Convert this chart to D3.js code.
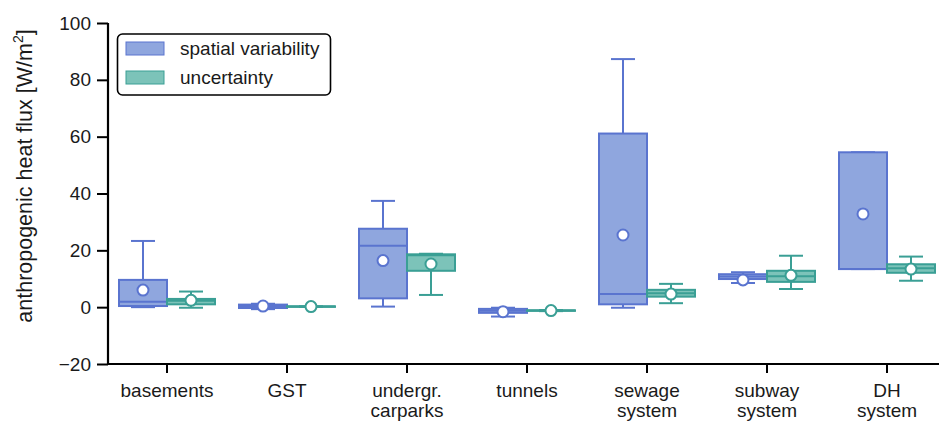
<!DOCTYPE html>
<html>
<head>
<meta charset="utf-8">
<script src="https://cdn.jsdelivr.net/npm/d3@7"></script>
<style>
  body { margin: 0; background: #fff; }
  svg { display: block; font-family: "Liberation Sans", Arial, sans-serif; }
</style>
</head>
<body>
<svg id="chart" width="939" height="422"></svg>
<script>
const categories = ['basements', 'GST', 'undergr.\ncarparks', 'tunnels', 'sewage\nsystem', 'subway\nsystem', 'DH\nsystem'];
const seriesNames = ['spatial variability', 'uncertainty'];
const yTicks = [-20, 0, 20, 40, 60, 80, 100];

// spatial variability stats per category
const spatialLo   = [0,    -0.7, 0.2,  -3.3, -0.2, 8.5,  13.4];
const spatialQ1   = [0.4,  -0.3, 3.1,  -2.0, 1.0,  9.9,  13.4];
const spatialMed  = [1.9,  0.4,  21.6, -1.3, 4.6,  10.8, 13.4];
const spatialQ3   = [9.6,  0.9,  27.6, -0.6, 61.1, 11.6, 54.5];
const spatialHi   = [23.3, 1.2,  37.4, -0.2, 87.3, 12.3, 54.5];
const spatialMean = [6.0,  0.4,  16.4, -1.6, 25.4, 9.6,  32.8];

// uncertainty stats per category
const uncLo   = [-0.2, 0.1, 4.3,  -1.4, 1.4, 6.4,  9.3];
const uncQ1   = [1.0,  0.1, 12.8, -1.3, 3.7, 8.9,  12.1];
const uncMed  = [2.3,  0.2, 18.3, -1.2, 4.9, 10.9, 13.7];
const uncQ3   = [2.9,  0.3, 18.6, -1.1, 6.1, 12.8, 15.1];
const uncHi   = [5.5,  0.3, 18.8, -1.0, 8.2, 18.1, 17.8];
const uncMean = [2.4,  0.2, 15.2, -1.2, 4.6, 11.2, 13.4];

const fills = ['#8fa6de', '#7cc3b9'];
const edges = ['#5a74cf', '#3a9f95'];

const svg = d3.select('#chart');
const margin = { top: 23, left: 108 };
const plotRight = 948, plotBottom = 364;

const x = d3.scaleBand().domain(categories).range([margin.left - 1, plotRight - 1]);
const sub = d3.scaleBand().domain(seriesNames).range([0, x.bandwidth()]).paddingOuter(0.25);
const y = d3.scaleLinear().domain([-20, 100]).range([plotBottom, margin.top]);

const build = (lo, q1, med, q3, hi, mean) => categories.map((c, i) => ({
  cat: c, lo: lo[i], q1: q1[i], med: med[i], q3: q3[i], hi: hi[i], mean: mean[i]
}));
const series = [
  build(spatialLo, spatialQ1, spatialMed, spatialQ3, spatialHi, spatialMean),
  build(uncLo, uncQ1, uncMed, uncQ3, uncHi, uncMean)
];

const bw = sub.bandwidth();
series.forEach((data, si) => {
  const g = svg.append('g');
  const grp = g.selectAll('g').data(data).enter().append('g')
    .attr('transform', d => `translate(${x(d.cat) + sub(seriesNames[si])},0)`);
  const cx = bw / 2;

  // whiskers
  grp.append('line').attr('x1', cx).attr('x2', cx)
    .attr('y1', d => y(d.hi)).attr('y2', d => y(d.q3))
    .attr('stroke', edges[si]).attr('stroke-width', 2);
  grp.append('line').attr('x1', cx).attr('x2', cx)
    .attr('y1', d => y(d.q1)).attr('y2', d => y(d.lo))
    .attr('stroke', edges[si]).attr('stroke-width', 2);
  // caps
  ['hi', 'lo'].forEach(k => {
    grp.append('line').attr('x1', cx - bw / 4).attr('x2', cx + bw / 4)
      .attr('y1', d => y(d[k])).attr('y2', d => y(d[k]))
      .attr('stroke', edges[si]).attr('stroke-width', 2);
  });
  // box
  grp.append('rect').attr('x', 0).attr('width', bw)
    .attr('y', d => y(d.q3)).attr('height', d => Math.max(0, y(d.q1) - y(d.q3)))
    .attr('fill', fills[si]).attr('stroke', edges[si]).attr('stroke-width', 2);
  // median
  grp.append('line').attr('x1', 0).attr('x2', bw)
    .attr('y1', d => y(d.med)).attr('y2', d => y(d.med))
    .attr('stroke', edges[si]).attr('stroke-width', 2);
  // mean
  grp.append('circle').attr('cx', cx).attr('cy', d => y(d.mean)).attr('r', 5.5)
    .attr('fill', '#fff').attr('stroke', edges[si]).attr('stroke-width', 2);
});

// axes
const yAxis = svg.append('g').attr('transform', `translate(${margin.left},0)`)
  .call(d3.axisLeft(y).tickValues(yTicks).tickSize(11).tickPadding(6).tickFormat(d => d < 0 ? '\u2212' + Math.abs(d) : d));
const xAxis = svg.append('g').attr('transform', `translate(0,${plotBottom})`)
  .call(d3.axisBottom(x).tickSize(9).tickPadding(6).tickFormat(''));
[yAxis, xAxis].forEach(a => {
  a.select('.domain').attr('stroke', '#000').attr('stroke-width', 2.2);
  a.selectAll('.tick line').attr('stroke', '#000').attr('stroke-width', 2);
  a.selectAll('text').attr('font-size', 19).attr('fill', '#1a1a1a').attr('font-family', '"Liberation Sans", Arial, sans-serif');
});
yAxis.select('.domain').attr('d', `M0,${y(100)}V${plotBottom}`);
xAxis.select('.domain').attr('d', `M${margin.left},0H${plotRight}`);

xAxis.selectAll('.tick').append('text')
  .attr('text-anchor', 'middle').attr('fill', '#1a1a1a').attr('font-size', 19)
  .each(function (d) {
    const lines = d.split('\n');
    d3.select(this).selectAll('tspan').data(lines).enter().append('tspan')
      .attr('x', 0).attr('y', (l, i) => 33 + i * 20).text(l => l);
  });

// y label
const yl = svg.append('text')
  .attr('transform', `translate(32,176) rotate(-90)`)
  .attr('text-anchor', 'middle').attr('font-size', 21.5).attr('fill', '#1a1a1a');
yl.append('tspan').text('anthropogenic heat flux [W/m');
yl.append('tspan').attr('font-size', 14).attr('dy', -9).text('2');
yl.append('tspan').attr('dy', 9).text(']');

// legend
const lg = svg.append('g');
lg.append('rect').attr('x', 117.5).attr('y', 34).attr('width', 213).attr('height', 61)
  .attr('rx', 5).attr('fill', '#fff').attr('stroke', '#000').attr('stroke-width', 1.6);
seriesNames.forEach((n, i) => {
  lg.append('rect').attr('x', 126).attr('y', 42 + i * 29).attr('width', 38).attr('height', 13)
    .attr('fill', fills[i]).attr('stroke', edges[i]).attr('stroke-width', 1);
  lg.append('text').attr('x', 180).attr('y', 55 + i * 29).attr('font-size', 19)
    .attr('fill', '#1a1a1a').text(n);
});
</script>
</body>
</html>
